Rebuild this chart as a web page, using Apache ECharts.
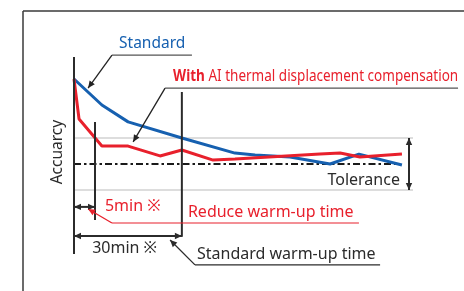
<!DOCTYPE html>
<html>
<head>
<meta charset="utf-8">
<script src="https://cdn.jsdelivr.net/npm/echarts@6/dist/echarts.min.js"></script>
<style>
html, body { margin: 0; padding: 0; background: #fff; }
#chart { width: 464px; height: 291px; }
</style>
</head>
<body>
<div id="chart"></div>
<script>
// time runs left to right in arbitrary units (0 = start of warm-up),
// error is in tolerance units (0 = target, +-1 = tolerance band)
const standardTime = [0, 8.3, 16.1, 32.1, 47.9, 53.9, 64.3, 76.2, 84.8, 97.6]
const standardError = [3.27, 2.27, 1.62, 1.0, 0.42, 0.35, 0.27, 0.0, 0.38, -0.04]
const aiTime = [0, 1.5, 8.3, 16.1, 25.6, 32.1, 41.4, 47.9, 73.2, 79.2, 85.1, 97.6]
const aiError = [3.27, 1.73, 0.69, 0.69, 0.31, 0.54, 0.15, 0.19, 0.38, 0.42, 0.27, 0.38]
const toleranceBand = [-1, 0, 1]
const warmUpAI = 6.25 // 5min
const warmUpStd = 32.1 // 30min

const BLUE = '#1660b0'
const RED = '#e8202c'
const DARK = '#2b2b2b'
const FONT = '"Noto Sans", "Noto Sans CJK JP", sans-serif'

const zip = (xs, ys) => xs.map((x, i) => [x, ys[i]])

const chart = echarts.init(document.getElementById('chart'))
chart.setOption({
  animation: false,
  grid: { left: 74, right: 54, top: 60, bottom: 101 },
  xAxis: { type: 'value', min: 0, max: 100, show: false },
  yAxis: { type: 'value', min: -1, max: 4, show: false },
  series: [
    {
      name: 'Standard',
      type: 'line',
      data: zip(standardTime, standardError),
      symbol: 'none',
      z: 4,
      lineStyle: { color: BLUE, width: 3 }
    },
    {
      name: 'With AI',
      type: 'line',
      data: zip(aiTime, aiError),
      symbol: 'none',
      z: 5,
      lineStyle: { color: RED, width: 3 }
    }
  ]
})

const p = (x, y) => chart.convertToPixel({ gridIndex: 0 }, [x, y])

function seg(a, b, color, w, z, dash) {
  return {
    type: 'line',
    z: z || 10,
    silent: true,
    shape: { x1: a[0], y1: a[1], x2: b[0], y2: b[1] },
    style: { stroke: color, lineWidth: w, lineDash: dash || null }
  }
}

// small filled arrow head at tip, pointing away from "from"
function head(tip, from, color) {
  const dx = tip[0] - from[0]
  const dy = tip[1] - from[1]
  const len = Math.hypot(dx, dy)
  const ux = dx / len
  const uy = dy / len
  const L = 7
  const W = 3.2
  const bx = tip[0] - ux * L
  const by = tip[1] - uy * L
  return {
    type: 'polygon',
    z: 11,
    silent: true,
    shape: { points: [tip, [bx - uy * W, by + ux * W], [bx + uy * W, by - ux * W]] },
    style: { fill: color }
  }
}

function arrow(from, tip, color, w) {
  return [seg(from, tip, color, w), head(tip, from, color)]
}

function dblArrow(a, b, color, w) {
  return [seg(a, b, color, w), head(a, b, color), head(b, a, color)]
}

function label(pos, text, color, size, extra) {
  return Object.assign({
    type: 'text',
    z: 12,
    silent: true,
    x: pos[0],
    y: pos[1],
    style: Object.assign({
      text: text,
      fill: color,
      fontSize: size,
      fontFamily: FONT,
      align: 'left',
      textAlign: 'left',
      verticalAlign: 'middle',
      textVerticalAlign: 'middle'
    }, (extra && extra.style) || {})
  }, (extra && extra.el) || {})
}

const [lo, mid, hi] = toleranceBand
const els = []

// frame
els.push(seg([23, 11], [464, 11], '#3a3a3a', 1.5, 1))
els.push(seg([23, 11], [23, 291], '#3a3a3a', 1.5, 1))

// tolerance band and target line
els.push(seg(p(0, hi), p(100.9, hi), '#d2d2d2', 1.5, 1))
els.push(seg(p(0, lo), p(100.9, lo), '#d2d2d2', 1.5, 1))
els.push(seg(p(0, mid), p(97, mid), '#1a1a1a', 2.2, 3, [7, 3, 2.5, 3]))

// vertical guides
els.push(seg(p(0, 4.12), p(0, -3.46), DARK, 2, 8))
els.push(seg(p(warmUpAI, 1.62), p(warmUpAI, -2.15), DARK, 2, 8))
els.push(seg(p(warmUpStd, 2.77), p(warmUpStd, -2.8), DARK, 2, 8))

// tolerance double arrow
els.push(...dblArrow(p(99.7, hi), p(99.7, lo), DARK, 2))

// dimension arrows
els.push(...dblArrow(p(0, -1.65), p(warmUpAI, -1.65), DARK, 2))
els.push(...dblArrow(p(0, -2.77), p(warmUpStd, -2.77), DARK, 2))

// Standard callout
els.push(seg(p(11.3, 4.19), p(35.1, 4.19), '#555', 1.2))
els.push(...arrow(p(11.3, 4.19), p(4.2, 2.92), '#222', 1.3))
els.push(label(p(13.4, 4.65), 'Standard', BLUE, 15.5))

// AI callout
els.push(seg(p(27.1, 2.92), p(114.3, 2.92), '#555', 1.2))
els.push(...arrow(p(27.1, 2.92), p(17.6, 0.85), '#222', 1.3))
els.push(label(p(29.5, 3.38), '{b|With} AI thermal displacement compensation', RED, 16, {
  el: { scaleX: 0.845 },
  style: {
    rich: {
      b: { fontWeight: 'bold', fontSize: 16, fontFamily: FONT, fill: RED }
    }
  }
}))

// y label
els.push(label(p(-4.8, 0.46), 'Accuarcy', DARK, 15.5, {
  el: { rotation: Math.PI / 2 },
  style: { align: 'center', textAlign: 'center' }
}))

els.push(label(p(97, -0.62), 'Tolerance', DARK, 16, {
  style: { align: 'right', textAlign: 'right' }
}))

// 5min / reduce warm-up
els.push(label(p(9.2, -1.65), '5min ※', RED, 16))
els.push(seg(p(11.3, -2.27), p(84.8, -2.27), RED, 1.2))
els.push(...arrow(p(11.3, -2.27), p(4.2, -1.73), RED, 1.3))
els.push(label(p(33.9, -1.88), 'Reduce warm-up time', RED, 16))

// 30min / standard warm-up
els.push(label(p(5.4, -3.23), '30min ※', DARK, 16))
els.push(seg(p(36.0, -3.88), p(91.1, -3.88), DARK, 1.2))
els.push(...arrow(p(36.0, -3.88), p(28.6, -2.92), DARK, 1.3))
els.push(label(p(36.6, -3.46), 'Standard warm-up time', DARK, 16))

chart.setOption({ graphic: { elements: els } })
</script>
</body>
</html>
